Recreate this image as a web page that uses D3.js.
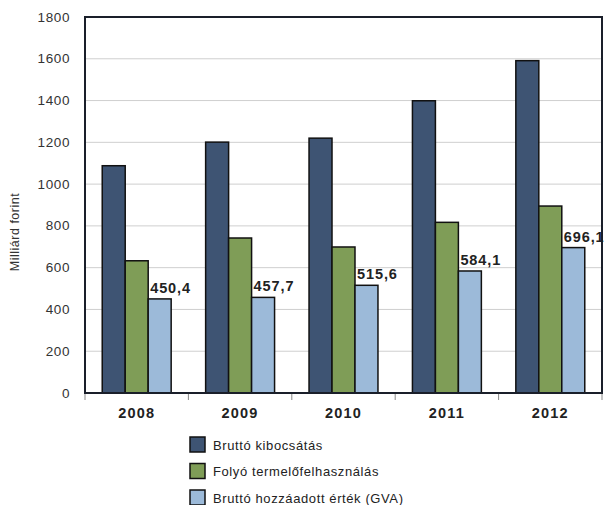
<!DOCTYPE html>
<html><head><meta charset="utf-8">
<script src="https://cdn.jsdelivr.net/npm/d3@7"></script>
<style>body{margin:0;background:#fff}svg{display:block}text{font-family:"Liberation Sans",Arial,sans-serif}</style>
</head><body>
<svg id="c" width="604" height="505"></svg>
<script>
const years = ["2008","2009","2010","2011","2012"];
const seriesNames = ["Bruttó kibocsátás","Folyó termelőfelhasználás","Bruttó hozzáadott érték (GVA)"];
const brutto = [1088, 1201, 1220, 1399, 1591];
const folyo = [633, 742, 699, 817, 895];
const gva = [450.4, 457.7, 515.6, 584.1, 696.1];
const gvaLabels = ["450,4","457,7","515,6","584,1","696,1"];
const yTicks = [0,200,400,600,800,1000,1200,1400,1600,1800];
const colors = ["#3e5473","#7f9d57","#9cbad9"];

const svg = d3.select("#c");
const L=85, R=602, T=17, B=393;
const x = d3.scaleBand().domain(years).range([L,R]).paddingInner(0).paddingOuter(0);
const y = d3.scaleLinear().domain([0,1800]).range([B,T]);
const bw = x.bandwidth()/4.5;
const sub = d3.scaleBand().domain([0,1,2]).range([0,bw*3]);

// gridlines
svg.append("g").selectAll("line").data(yTicks.filter(d=>d>0&&d<1800)).join("line")
  .attr("x1",L).attr("x2",R).attr("y1",d=>y(d)).attr("y2",d=>y(d))
  .attr("stroke","#cfcfcf").attr("stroke-width",1);

// y tick labels
svg.append("g").selectAll("text").data(yTicks).join("text")
  .attr("x",70).attr("y",d=>y(d)+4.5).attr("text-anchor","end")
  .attr("font-size",13.5).attr("fill","#333").attr("letter-spacing","0.6")
  .text(d=>d);

// x ticks
svg.append("g").selectAll("line").data(d3.range(0,6)).join("line")
  .attr("x1",i=>L+i*x.step()).attr("x2",i=>L+i*x.step())
  .attr("y1",B).attr("y2",B+7).attr("stroke","#888").attr("stroke-width",1);

// bars
const all=[brutto,folyo,gva];
all.forEach((arr,si)=>{
  svg.append("g").selectAll("rect").data(arr).join("rect")
    .attr("x",(d,i)=>x(years[i])+(x.bandwidth()-bw*3)/2+sub(si))
    .attr("y",d=>y(d)).attr("width",bw).attr("height",d=>B-y(d))
    .attr("fill",colors[si]).attr("stroke","#111").attr("stroke-width",1.5);
});

// labels
svg.append("g").selectAll("text").data(gva).join("text")
  .attr("x",(d,i)=>x(years[i])+(x.bandwidth()-bw*3)/2+sub(2)+2)
  .attr("y",d=>y(d)-6)
  .attr("font-size",14.5).attr("font-weight","bold").attr("fill","#222").attr("letter-spacing","0.9")
  .text((d,i)=>gvaLabels[i]);

// plot border
svg.append("rect").attr("x",L).attr("y",T).attr("width",R-L).attr("height",B-T)
  .attr("fill","none").attr("stroke","#1a1f2a").attr("stroke-width",2);

// x labels
svg.append("g").selectAll("text").data(years).join("text")
  .attr("x",d=>x(d)+x.bandwidth()/2).attr("y",418).attr("text-anchor","middle")
  .attr("font-size",14.5).attr("font-weight","bold").attr("fill","#222").attr("letter-spacing","1.2")
  .text(d=>d);

// y title
svg.append("text").attr("transform","translate(19,232) rotate(-90)")
  .attr("text-anchor","middle").attr("font-size",12.5).attr("fill","#333").attr("letter-spacing","0.5").text("Milliárd forint");

// legend
const lg = svg.append("g").selectAll("g").data(seriesNames).join("g")
  .attr("transform",(d,i)=>`translate(190,${437+i*26.5})`);
lg.append("rect").attr("width",15).attr("height",15).attr("fill",(d,i)=>colors[i])
  .attr("stroke","#111").attr("stroke-width",1.5);
lg.append("text").attr("x",23).attr("y",12.5).attr("font-size",13).attr("fill","#222").attr("letter-spacing","0.6").text(d=>d);
</script>
</body></html>
